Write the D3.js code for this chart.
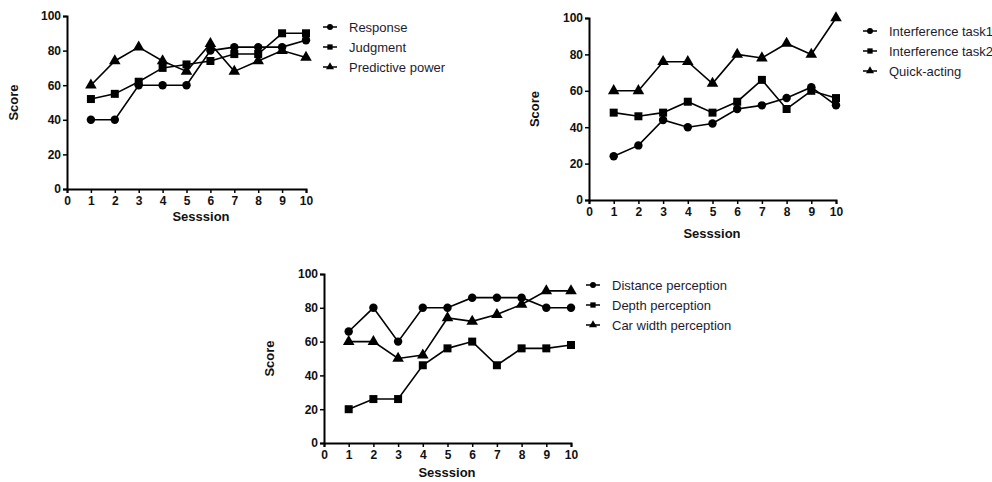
<!DOCTYPE html>
<html>
<head>
<meta charset="utf-8">
<script src="https://cdn.jsdelivr.net/npm/d3@7"></script>
<style>
  body { margin: 0; background: #fff; }
  svg { display: block; }
  .tick text { font-family: "Liberation Sans", Arial, sans-serif; font-weight: bold; font-size: 12px; fill: #111; }
</style>
</head>
<body>
<svg id="chart" width="992" height="482"></svg>
<script>
var sessions = [1, 2, 3, 4, 5, 6, 7, 8, 9, 10]
var xTicks = [0, 1, 2, 3, 4, 5, 6, 7, 8, 9, 10]
var yTicks = [0, 20, 40, 60, 80, 100]

// panel 1
var response = [40, 40, 60, 60, 60, 80, 82, 82, 82, 86]
var judgment = [52, 55, 62, 70, 72, 74, 78, 78, 90, 90]
var predictive = [60, 74, 82, 74, 68, 84, 68, 74, 80, 76]
// panel 2
var interference1 = [24, 30, 44, 40, 42, 50, 52, 56, 62, 52]
var interference2 = [48, 46, 48, 54, 48, 54, 66, 50, 60, 56]
var quickActing = [60, 60, 76, 76, 64, 80, 78, 86, 80, 100]
// panel 3
var distance = [66, 80, 60, 80, 80, 86, 86, 86, 80, 80]
var depth = [20, 26, 26, 46, 56, 60, 46, 56, 56, 58]
var carWidth = [60, 60, 50, 52, 74, 72, 76, 82, 90, 90]

var panels = [
  {x0: 67, x1: 306, yTop: 16, yBot: 189, xLab: 201, yLab: 221, scoreX: 18, legX: 330, legY: 27,
   series: [{name: "Response", values: response, shape: "circle"},
            {name: "Judgment", values: judgment, shape: "square"},
            {name: "Predictive power", values: predictive, shape: "triangle"}]},
  {x0: 589, x1: 836, yTop: 18, yBot: 200, xLab: 712, yLab: 238, scoreX: 539, legX: 870, legY: 31,
   series: [{name: "Interference task1", values: interference1, shape: "circle"},
            {name: "Interference task2", values: interference2, shape: "square"},
            {name: "Quick-acting", values: quickActing, shape: "triangle"}]},
  {x0: 324, x1: 571, yTop: 274, yBot: 443, xLab: 447, yLab: 477, scoreX: 274, legX: 593, legY: 285,
   series: [{name: "Distance perception", values: distance, shape: "circle"},
            {name: "Depth perception", values: depth, shape: "square"},
            {name: "Car width perception", values: carWidth, shape: "triangle"}]}
]

var shapeTypes = {circle: d3.symbolCircle, square: d3.symbolSquare, triangle: d3.symbolTriangle}
var markSizes = {circle: 56, square: 64, triangle: 58}

var svg = d3.select("#chart")

panels.forEach(function(p){
  var x = d3.scaleLinear().domain([0, 10]).range([p.x0, p.x1])
  var y = d3.scaleLinear().domain([0, 100]).range([p.yBot, p.yTop])
  var g = svg.append("g")

  var xAxis = g.append("g")
    .attr("transform", "translate(0," + p.yBot + ")")
    .call(d3.axisBottom(x).tickValues(xTicks).tickSize(4).tickPadding(3).tickFormat(d3.format("d")))
  var yAxis = g.append("g")
    .attr("transform", "translate(" + p.x0 + ",0)")
    .call(d3.axisLeft(y).tickValues(yTicks).tickSize(4).tickPadding(2))
  ;[xAxis, yAxis].forEach(function(a){
    a.select(".domain").attr("stroke", "#000").attr("stroke-width", 2)
    a.selectAll(".tick line").attr("stroke", "#000").attr("stroke-width", 1.5)
  })

  g.append("text")
    .attr("x", p.xLab).attr("y", p.yLab)
    .attr("text-anchor", "middle")
    .style("font-family", "Liberation Sans, Arial, sans-serif")
    .style("font-weight", "bold").style("font-size", "13px").style("fill", "#111")
    .text("Sesssion")
  g.append("text")
    .attr("transform", "translate(" + p.scoreX + "," + ((p.yTop + p.yBot) / 2) + ") rotate(-90)")
    .attr("text-anchor", "middle")
    .style("font-family", "Liberation Sans, Arial, sans-serif")
    .style("font-weight", "bold").style("font-size", "13px").style("fill", "#111")
    .text("Score")

  var line = d3.line()
    .x(function(d, i){ return x(sessions[i]) })
    .y(function(d){ return y(d) })

  p.series.forEach(function(s, k){
    g.append("path")
      .datum(s.values)
      .attr("fill", "none")
      .attr("stroke", "#000")
      .attr("stroke-width", 1.6)
      .attr("d", line)
    g.selectAll(null)
      .data(s.values)
      .enter()
      .append("path")
        .attr("d", d3.symbol().type(shapeTypes[s.shape]).size(markSizes[s.shape]))
        .attr("transform", function(d, i){ return "translate(" + x(sessions[i]) + "," + y(d) + ")" })
        .attr("fill", "#000")

    // legend
    var ly = p.legY + k * 20
    g.append("line")
      .attr("x1", p.legX - 7).attr("x2", p.legX + 7)
      .attr("y1", ly).attr("y2", ly)
      .attr("stroke", "#000").attr("stroke-width", 1.5)
    g.append("path")
      .attr("d", d3.symbol().type(shapeTypes[s.shape]).size(28))
      .attr("transform", "translate(" + p.legX + "," + ly + ")")
      .attr("fill", "#000")
    g.append("text")
      .attr("x", p.legX + 19).attr("y", ly + 4.5)
      .style("font-family", "Liberation Sans, Arial, sans-serif")
      .style("font-size", "13px").style("fill", "#1c1c30")
      .text(s.name)
  })
})
</script>
</body>
</html>
